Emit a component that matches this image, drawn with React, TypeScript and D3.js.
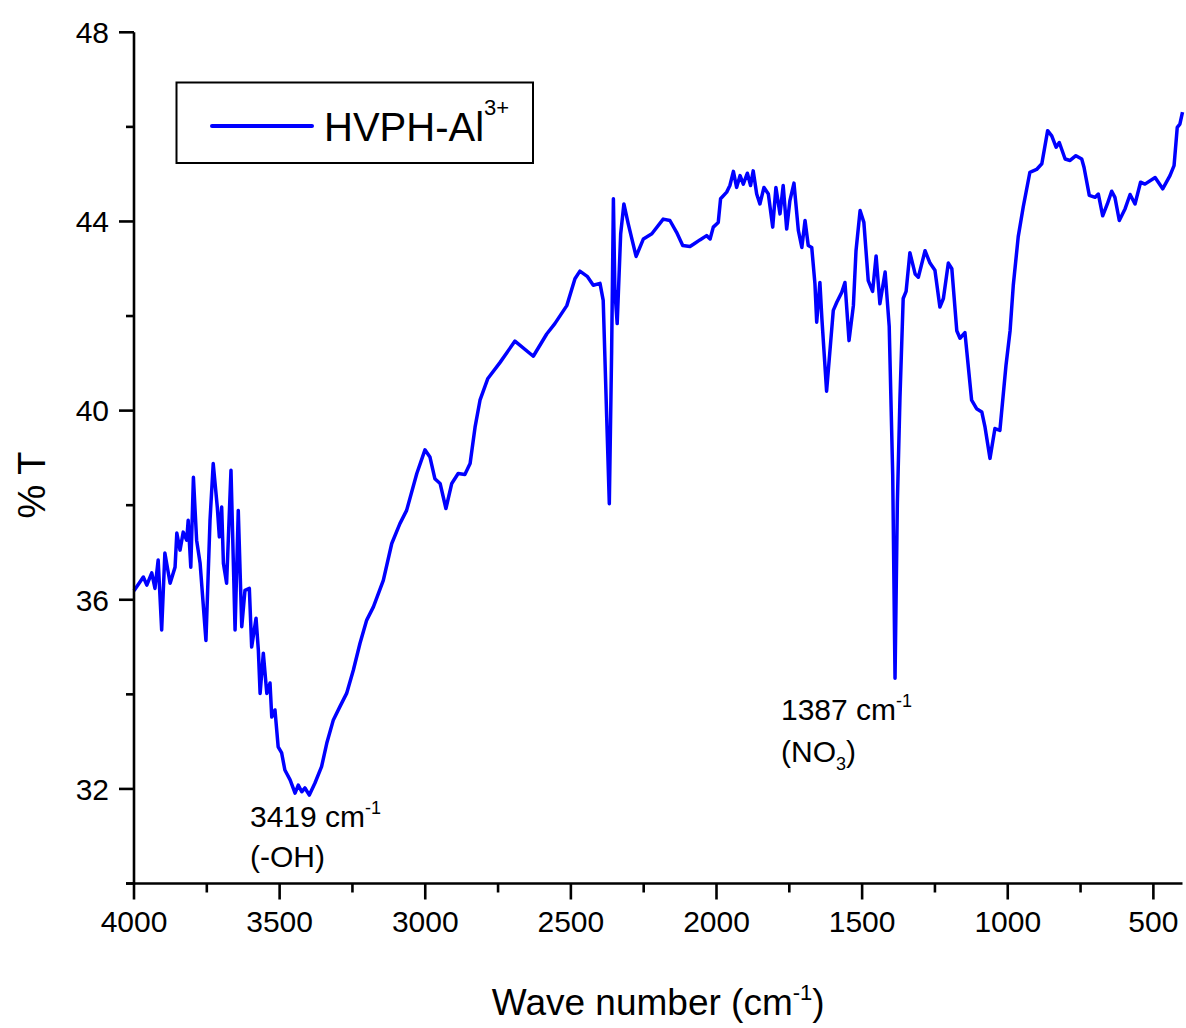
import React from "react";
import * as d3 from "d3";

// Wavenumber (cm^-1) and %T
const waveNumbers = [
  4000, 3968, 3956, 3939, 3928, 3917, 3905, 3894, 3876, 3859, 3853, 3842, 3831, 3819, 3814, 3805, 3796, 3785, 3773, 3753,
  3739, 3728, 3714, 3707, 3699, 3693, 3682, 3667, 3653, 3642, 3630, 3619, 3604, 3596, 3581, 3573, 3567, 3556, 3544, 3533,
  3527, 3516, 3505, 3493, 3482, 3464, 3447, 3436, 3424, 3413, 3398, 3379, 3356, 3338, 3316, 3293, 3270, 3247, 3224, 3201,
  3178, 3144, 3115, 3087, 3064, 3029, 3001, 2984, 2967, 2949, 2929, 2909, 2887, 2864, 2846, 2829, 2812, 2785, 2743, 2692,
  2629, 2583, 2555, 2514, 2486, 2469, 2444, 2423, 2400, 2389, 2377, 2368, 2360, 2354, 2349, 2341, 2329, 2318, 2303, 2276,
  2251, 2222, 2183, 2160, 2137, 2116, 2091, 2074, 2057, 2034, 2022, 2011, 1994, 1986, 1965, 1954, 1942, 1931, 1919, 1908,
  1894, 1883, 1874, 1862, 1851, 1837, 1822, 1807, 1796, 1782, 1771, 1759, 1748, 1734, 1719, 1707, 1696, 1685, 1673, 1662,
  1656, 1645, 1638, 1622, 1599, 1587, 1570, 1559, 1545, 1530, 1521, 1507, 1494, 1479, 1464, 1452, 1439, 1421, 1407, 1395,
  1387, 1379, 1370, 1359, 1349, 1336, 1318, 1307, 1284, 1267, 1250, 1233, 1221, 1204, 1192, 1175, 1164, 1147, 1124, 1107,
  1089, 1078, 1061, 1044, 1027, 1006, 992, 981, 964, 947, 924, 901, 883, 863, 849, 834, 823, 803, 786, 766,
  746, 738, 720, 700, 689, 674, 658, 643, 632, 617, 597, 580, 563, 544, 529, 494, 468, 443, 429, 418,
  409, 400,
];
const transmittance = [
  36.19, 36.48, 36.31, 36.57, 36.24, 36.84, 35.36, 36.99, 36.35, 36.69, 37.41, 37.05, 37.43, 37.26, 37.68, 36.69, 38.59, 37.26, 36.77, 35.14,
  37.68, 38.88, 37.96, 37.33, 37.96, 36.77, 36.35, 38.74, 35.36, 37.89, 35.43, 36.2, 36.24, 35.0, 35.61, 34.93, 34.02, 34.87, 34.02, 34.24,
  33.52, 33.67, 32.89, 32.76, 32.4, 32.19, 31.91, 32.08, 31.94, 32.02, 31.87, 32.12, 32.47, 32.97, 33.45, 33.74, 34.02, 34.51, 35.08, 35.57,
  35.85, 36.41, 37.19, 37.61, 37.89, 38.67, 39.17, 39.02, 38.56, 38.46, 37.93, 38.46, 38.67, 38.65, 38.88, 39.65, 40.22, 40.68, 41.02, 41.47,
  41.15, 41.62, 41.84, 42.22, 42.79, 42.95, 42.84, 42.65, 42.69, 42.33, 39.86, 38.03, 41.27, 44.48, 42.54, 41.84, 43.74, 44.37, 43.95, 43.26,
  43.63, 43.74, 44.05, 44.02, 43.77, 43.49, 43.47, 43.54, 43.61, 43.7, 43.63, 43.88, 43.98, 44.48, 44.62, 44.76, 45.06, 44.72, 44.97, 44.79,
  45.02, 44.76, 45.07, 44.58, 44.37, 44.72, 44.58, 43.88, 44.72, 44.16, 44.76, 43.84, 44.44, 44.81, 43.81, 43.45, 44.02, 43.49, 43.45, 42.68,
  41.87, 42.71, 41.93, 40.41, 42.12, 42.29, 42.5, 42.71, 41.48, 42.22, 43.38, 44.23, 43.98, 42.75, 42.52, 43.27, 42.26, 42.93, 41.78, 38.65,
  34.34, 38.06, 40.29, 42.37, 42.52, 43.34, 42.89, 42.82, 43.38, 43.12, 42.97, 42.19, 42.37, 43.12, 43.0, 41.69, 41.53, 41.65, 40.22, 40.04,
  39.97, 39.65, 38.99, 39.62, 39.58, 40.96, 41.69, 42.65, 43.68, 44.3, 45.04, 45.1, 45.22, 45.92, 45.81, 45.57, 45.67, 45.32, 45.29, 45.39,
  45.32, 45.14, 44.55, 44.51, 44.58, 44.12, 44.37, 44.64, 44.51, 44.02, 44.27, 44.57, 44.37, 44.83, 44.79, 44.93, 44.69, 44.97, 45.18, 45.99,
  46.06, 46.31,
];

const xMajorTicks = [4000, 3500, 3000, 2500, 2000, 1500, 1000, 500];
const xMinorTicks = [3750, 3250, 2750, 2250, 1750, 1250, 750];
const yMajorTicks = [32, 36, 40, 44, 48];
const yMinorTicks = [30, 34, 38, 42, 46];

const seriesName = "HVPH-Al";
const seriesSup = "3+";

const FONT = "'Liberation Sans', Arial, sans-serif";

export default function App() {
  const W = 1186;
  const H = 1028;
  const left = 134;
  const right = 1182.5;
  const top = 32.3;
  const bottom = 883.5;

  const x = d3.scaleLinear().domain([4000, 400]).range([left, right]);
  const y = d3.scaleLinear().domain([30, 48]).range([bottom, top]);

  const pts = waveNumbers.map((w, i) => [w, transmittance[i]] as [number, number]);
  const line = d3
    .line<[number, number]>()
    .x((d) => x(d[0]))
    .y((d) => y(d[1]));

  const axisColor = "#000";

  return (
    <svg
      width={W}
      height={H}
      viewBox={`0 0 ${W} ${H}`}
      style={{ position: "absolute", left: 0, top: 0, display: "block", background: "#fff" }}
      fontFamily={FONT}
    >
      <rect x={0} y={0} width={W} height={H} fill="#fff" />

      {/* spectrum */}
      <path d={line(pts) || ""} fill="none" stroke="#0000ff" strokeWidth={3.5} strokeLinejoin="round" />

      {/* axes */}
      <line x1={left} x2={left} y1={top} y2={bottom + 1} stroke={axisColor} strokeWidth={2.6} />
      <line x1={left - 8} x2={right} y1={bottom} y2={bottom} stroke={axisColor} strokeWidth={2.6} />

      {yMajorTicks.map((t) => (
        <g key={"ym" + t}>
          <line x1={left - 15} x2={left} y1={y(t)} y2={y(t)} stroke={axisColor} strokeWidth={2.6} />
          <text x={left - 25} y={y(t)} dy="0.36em" textAnchor="end" fontSize={30} fill="#000">
            {t}
          </text>
        </g>
      ))}
      {yMinorTicks.map((t) => (
        <line key={"yn" + t} x1={left - 8} x2={left} y1={y(t)} y2={y(t)} stroke={axisColor} strokeWidth={2.6} />
      ))}

      {xMajorTicks.map((t) => (
        <g key={"xm" + t}>
          <line x1={x(t)} x2={x(t)} y1={bottom} y2={bottom + 16} stroke={axisColor} strokeWidth={2.6} />
          <text x={x(t)} y={bottom + 48} textAnchor="middle" fontSize={30} fill="#000">
            {t}
          </text>
        </g>
      ))}
      {xMinorTicks.map((t) => (
        <line key={"xn" + t} x1={x(t)} x2={x(t)} y1={bottom} y2={bottom + 9} stroke={axisColor} strokeWidth={2.6} />
      ))}

      {/* axis titles */}
      <text x={(left + right) / 2} y={1015} textAnchor="middle" fontSize={37} fill="#000">
        Wave number (cm
        <tspan fontSize={22} dy={-15}>-1</tspan>
        <tspan dy={15}>)</tspan>
      </text>
      <text transform={`translate(45, 485) rotate(-90)`} textAnchor="middle" fontSize={38} fill="#000">
        % T
      </text>

      {/* legend */}
      <rect x={176.5} y={82.5} width={356.5} height={80.5} fill="#fff" stroke="#000" strokeWidth={2} />
      <line x1={212} x2={312} y1={126} y2={126} stroke="#0000ff" strokeWidth={4} strokeLinecap="round" />
      <text x={324} y={141} fontSize={40} fill="#000">
        {seriesName}
        <tspan fontSize={22} dy={-26}>{seriesSup}</tspan>
      </text>

      {/* annotations */}
      <text x={250} y={827} fontSize={30} fill="#000">
        3419 cm
        <tspan fontSize={18} dy={-13}>-1</tspan>
      </text>
      <text x={250} y={867} fontSize={30} fill="#000">
        (-OH)
      </text>
      <text x={781} y={720} fontSize={30} fill="#000">
        1387 cm
        <tspan fontSize={18} dy={-13}>-1</tspan>
      </text>
      <text x={781} y={762} fontSize={30} fill="#000">
        (NO
        <tspan fontSize={18} dy={8}>3</tspan>
        <tspan dy={-8}>)</tspan>
      </text>
    </svg>
  );
}
